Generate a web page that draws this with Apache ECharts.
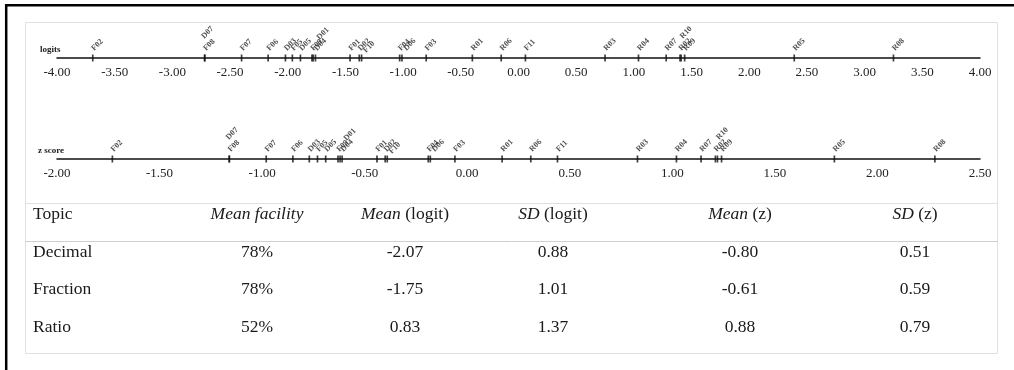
<!DOCTYPE html>
<html>
<head>
<meta charset="utf-8">
<script src="https://cdn.jsdelivr.net/npm/echarts@6/dist/echarts.min.js"></script>
<style>
html, body { margin: 0; padding: 0; background: #fff; }
#chart { width: 1014px; height: 370px; }
</style>
</head>
<body>
<div id="chart"></div>
<script>
// item names, in order along the scale
var items = ['F02','D07','F08','F07','F06','D03','F05','D05','F09','D01','D04','F01','D02','F10',
             'F04','D06','F03','R01','R06','F11','R03','R04','R07','R02','R10','R09','R05','R08'];
// item difficulty in logits
var logitValues = [-3.69,-2.72,-2.72,-2.40,-2.17,-2.02,-1.96,-1.89,-1.79,-1.78,-1.76,-1.46,-1.38,-1.36,
                   -1.03,-1.01,-0.80,-0.40,-0.15,0.06,0.75,1.04,1.28,1.40,1.41,1.44,2.39,3.25];
// same items as z scores
var zValues = [-1.73,-1.16,-1.16,-0.98,-0.85,-0.77,-0.73,-0.69,-0.63,-0.62,-0.61,-0.44,-0.40,-0.39,
               -0.19,-0.18,-0.06,0.17,0.31,0.44,0.83,1.02,1.14,1.21,1.22,1.24,1.79,2.28];

// table below the scales
var topics = ['Decimal','Fraction','Ratio'];
var meanFacility = [78, 78, 52];
var meanLogit = [-2.07, -1.75, 0.83];
var sdLogit = [0.88, 1.01, 1.37];
var meanZ = [-0.80, -0.61, 0.88];
var sdZ = [0.51, 0.59, 0.79];
var headers = ['Topic', '{i|Mean facility}', '{i|Mean} (logit)', '{i|SD} (logit)', '{i|Mean} (z)', '{i|SD} (z)'];

// labels nudged off a neighbour: screen shift in px
var labelLift = { D07: [-2, -12], D01: [5, -11], R10: [0, -12], F10: [3, 2], D06: [3, 0] };

var SERIF = 'Liberation Serif';
var chart = echarts.init(document.getElementById('chart'));

// label offset is applied in the rotated (45deg) frame, so turn the screen shift back
function rotatedOffset(s) {
    var k = Math.SQRT2;
    return [(s[0] - s[1]) / k, (s[0] + s[1]) / k];
}

function points(vals) {
    return items.map(function (n, i) {
        var d = { name: n, value: [vals[i], 0] };
        if (labelLift[n]) d.label = { offset: rotatedOffset(labelLift[n]) };
        return d;
    });
}

function scaleSeries(idx, vals) {
    return {
        type: 'scatter',
        xAxisIndex: idx,
        yAxisIndex: idx,
        symbol: 'rect',
        symbolSize: [1.7, 7],
        clip: false,
        silent: true,
        itemStyle: { color: '#111' },
        label: {
            show: true,
            formatter: '{b}',
            position: 'top',
            distance: 5,
            rotate: 45,
            align: 'left',
            verticalAlign: 'middle',
            fontSize: 8,
            fontWeight: 'bold',
            fontFamily: SERIF,
            color: '#222'
        },
        data: points(vals)
    };
}

function valueAxis(idx, min, max) {
    return {
        type: 'value',
        gridIndex: idx,
        min: min,
        max: max,
        interval: 0.5,
        axisLine: { show: true, lineStyle: { color: '#111', width: 1.5 } },
        axisTick: { show: false },
        splitLine: { show: false },
        axisLabel: {
            margin: 8,
            showMinLabel: true,
            showMaxLabel: true,
            fontSize: 13,
            fontFamily: SERIF,
            color: '#222',
            formatter: function (v) { return v.toFixed(2); }
        }
    };
}

// table, built from the arrays
var colX = [33, 257, 405, 553, 740, 915];
var rowY = [214, 252, 289.5, 327];
var graphic = [
    { type: 'line', shape: { x1: 5, y1: 5.3, x2: 1014, y2: 5.3 }, style: { stroke: '#000', lineWidth: 2.5 } },
    { type: 'line', shape: { x1: 6.2, y1: 4, x2: 6.2, y2: 370 }, style: { stroke: '#000', lineWidth: 2.5 } },
    { type: 'rect', shape: { x: 25.5, y: 22.5, width: 972, height: 331 }, style: { fill: 'none', stroke: '#e0e0e0', lineWidth: 1 } },
    { type: 'line', shape: { x1: 25, y1: 203.5, x2: 998, y2: 203.5 }, style: { stroke: '#e0e0e0', lineWidth: 1 } },
    { type: 'line', shape: { x1: 25, y1: 241.5, x2: 998, y2: 241.5 }, style: { stroke: '#cfcfcf', lineWidth: 1 } }
];
function cell(text, col, row) {
    graphic.push({
        type: 'text',
        x: colX[col],
        y: rowY[row],
        style: {
            text: text,
            fill: '#1a1a1a',
            fontSize: 17.5,
            fontFamily: SERIF,
            align: col === 0 ? 'left' : 'center',
            verticalAlign: 'middle',
            rich: { i: { fontStyle: 'italic', fontSize: 17.5, fontFamily: SERIF, fill: '#1a1a1a' } }
        }
    });
}
headers.forEach(function (h, c) { cell(h, c, 0); });
topics.forEach(function (t, r) {
    cell(t, 0, r + 1);
    cell(meanFacility[r] + '%', 1, r + 1);
    cell(meanLogit[r].toFixed(2), 2, r + 1);
    cell(sdLogit[r].toFixed(2), 3, r + 1);
    cell(meanZ[r].toFixed(2), 4, r + 1);
    cell(sdZ[r].toFixed(2), 5, r + 1);
});

var option = {
    animation: false,
    backgroundColor: '#fff',
    title: [
        { text: 'logits', left: 40, top: 45.5, padding: 0,
          textStyle: { fontSize: 9, fontWeight: 'bold', fontFamily: SERIF, color: '#222' } },
        { text: 'z score', left: 38, top: 146.5, padding: 0,
          textStyle: { fontSize: 9, fontWeight: 'bold', fontFamily: SERIF, color: '#222' } }
    ],
    grid: [
        { left: 57, right: 34, top: 20, height: 38 },
        { left: 57, right: 34, top: 121, height: 38 }
    ],
    xAxis: [valueAxis(0, -4, 4), valueAxis(1, -2, 2.5)],
    yAxis: [
        { type: 'value', gridIndex: 0, min: 0, max: 1, show: false },
        { type: 'value', gridIndex: 1, min: 0, max: 1, show: false }
    ],
    series: [scaleSeries(0, logitValues), scaleSeries(1, zValues)],
    graphic: graphic
};
chart.setOption(option);
</script>
</body>
</html>
